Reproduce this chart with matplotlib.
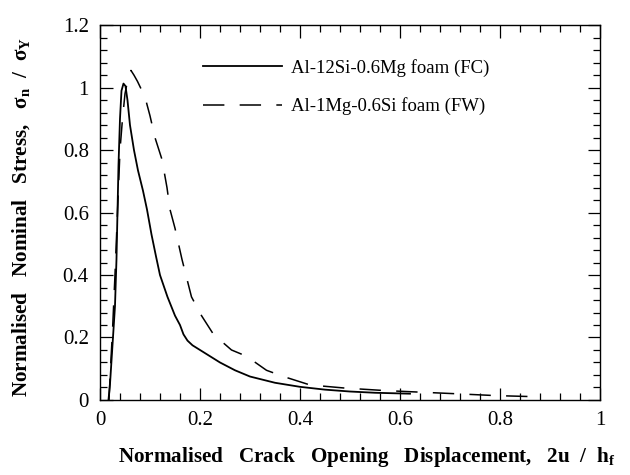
import numpy as np
import matplotlib
matplotlib.use('Agg')
import matplotlib.pyplot as plt
from matplotlib.ticker import MultipleLocator

plt.rcParams['font.family'] = ['Liberation Serif', 'DejaVu Serif']
plt.rcParams['mathtext.fontset'] = 'custom'
plt.rcParams['mathtext.rm'] = 'Liberation Serif'
plt.rcParams['mathtext.it'] = 'Liberation Serif:italic'
plt.rcParams['mathtext.bf'] = 'Liberation Serif:bold'

# Al-12Si-0.6Mg foam (FC) - solid
fc_x = [0.017, 0.020, 0.022, 0.026, 0.030, 0.033, 0.035, 0.037, 0.040, 0.043,
        0.047, 0.051, 0.055, 0.060, 0.068, 0.076, 0.086, 0.094, 0.103, 0.112,
        0.120, 0.135, 0.150, 0.160, 0.167, 0.175, 0.185, 0.200, 0.220, 0.240,
        0.270, 0.300, 0.350, 0.400, 0.450, 0.500, 0.550, 0.620]
fc_y = [0.0, 0.05, 0.10, 0.20, 0.30, 0.45, 0.60, 0.75, 0.90, 0.99,
        1.013, 1.005, 0.96, 0.88, 0.80, 0.735, 0.67, 0.61, 0.53, 0.46,
        0.40, 0.33, 0.27, 0.24, 0.21, 0.19, 0.175, 0.16, 0.14, 0.12,
        0.095, 0.075, 0.055, 0.042, 0.033, 0.027, 0.023, 0.02]

# Al-1Mg-0.6Si foam (FW) - dashed
fw_x = [0.018, 0.021, 0.025, 0.030, 0.035, 0.040, 0.045, 0.050, 0.056, 0.062,
        0.068, 0.075, 0.090, 0.100, 0.110, 0.124, 0.134, 0.140, 0.150, 0.164,
        0.183, 0.203, 0.227, 0.263, 0.293, 0.333, 0.367, 0.420, 0.490, 0.570,
        0.640, 0.710, 0.790, 0.880]
fw_y = [0.0, 0.10, 0.22, 0.40, 0.60, 0.80, 0.90, 0.98, 1.03, 1.055,
        1.04, 1.02, 0.97, 0.91, 0.84, 0.77, 0.68, 0.61, 0.55, 0.45,
        0.33, 0.27, 0.21, 0.16, 0.14, 0.095, 0.075, 0.048, 0.038, 0.03,
        0.025, 0.02, 0.014, 0.01]

x_ticks = [0, 0.2, 0.4, 0.6, 0.8, 1.0]
x_labels = ['0', '0.2', '0.4', '0.6', '0.8', '1']
y_ticks = [0, 0.2, 0.4, 0.6, 0.8, 1.0, 1.2]
y_labels = ['0', '0.2', '0.4', '0.6', '0.8', '1', '1.2']

fig = plt.figure(figsize=(6.3, 4.75), dpi=100)
ax = fig.add_axes([0.1587, 0.158, 0.7937, 0.789])

ax.plot(fc_x, fc_y, color='black', linewidth=1.3, label='Al-12Si-0.6Mg foam (FC)')
ax.plot(fw_x, fw_y, color='black', linewidth=1.1, dashes=(14, 10),
        label='Al-1Mg-0.6Si foam (FW)')

ax.set_xticks(x_ticks)
ax.set_xticklabels(x_labels)
ax.set_yticks(y_ticks)
ax.set_yticklabels(y_labels)
ax.xaxis.set_minor_locator(MultipleLocator(0.04))
ax.yaxis.set_minor_locator(MultipleLocator(0.04))
ax.set_xlim(0, 1)
ax.set_ylim(0, 1.2)
ax.tick_params(which='both', direction='in', top=True, right=True, labelsize=15)
ax.tick_params(which='major', length=9, width=0.9, pad=8)
ax.tick_params(which='minor', length=5, width=0.9)
for s in ax.spines.values():
    s.set_linewidth(1.0)

ax.set_xlabel(r'Normalised   Crack   Opening   Displacement,   2u  /  h$_\mathbf{f}$',
              fontsize=15.2, fontweight='bold')
ax.xaxis.set_label_coords(0.533, -0.12)
ax.set_ylabel(r'Normalised   Nominal   Stress,   $\mathbf{\sigma_n}$  /  $\mathbf{\sigma_Y}$',
              fontsize=15.2, fontweight='bold')
ax.yaxis.set_label_coords(-0.135, 0.488)

ax.legend(loc='upper left', bbox_to_anchor=(0.172, 0.955), frameon=False,
          fontsize=13.5, handlelength=4.2, handletextpad=0.5, labelspacing=1.1)

fig.savefig('out.png', dpi=100)
